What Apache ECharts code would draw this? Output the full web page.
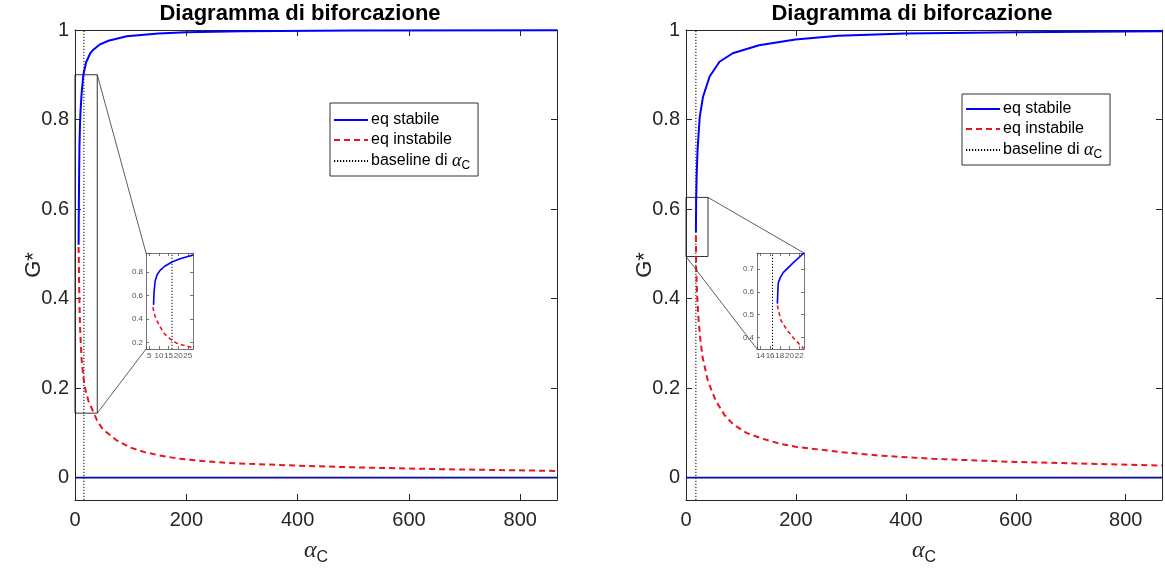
<!DOCTYPE html>
<html><head><meta charset="utf-8">
<script src="https://cdn.jsdelivr.net/npm/echarts@6/dist/echarts.min.js"></script>
<style>html,body{margin:0;padding:0;background:#fff}#c{width:1165px;height:573px}</style>
</head><body><div id="c"></div><script>
// ---------------- data ----------------
const titleText = 'Diagramma di biforcazione';
const nameStable = 'eq stabile';
const nameUnstable = 'eq instabile';
const nameBaseline = 'baseline di α_C';
const xTickStep = 200;
const yTickStep = 0.2;
const mainYRange = [-0.05, 1];

// left panel
const leftXRange = [0, 866];
const leftStable = [[6.5,0.52],[7,0.62],[7.5,0.69],[8,0.74],[9,0.79],[10,0.82],[12,0.86],[15,0.9],[20,0.928],[27,0.947],[33,0.956],[45,0.968],[60,0.976],[93,0.986],[150,0.992],[200,0.995],[300,0.997],[500,0.999],[866,0.9995]];
const leftUnstable = [[6.5,0.515],[7.2,0.45],[8,0.39],[9,0.34],[10,0.31],[12,0.262],[15,0.225],[18,0.2],[24,0.172],[30,0.155],[40,0.127],[50,0.108],[75,0.083],[100,0.067],[125,0.057],[150,0.05],[183,0.043],[230,0.037],[285,0.032],[393,0.027],[500,0.023],[650,0.019],[866,0.015]];
const leftTrivial = [[0,0],[866,0]];
const leftAlphaC = 16;
const leftZoomBox = [0, 0.144, 40, 0.9];
const leftInsetXRange = [3.3, 27.7];
const leftInsetYRange = [0.143, 0.963];
const leftInsetXStep = 5;
const leftInsetYStep = 0.2;
const leftInsetStable = [[7.2,0.52],[7.5,0.63],[8,0.72],[9,0.775],[10.6,0.815],[13,0.85],[16.8,0.886],[20,0.908],[22.3,0.92],[25,0.933],[27.7,0.945]];
const leftInsetUnstable = [[6.9,0.5],[7.5,0.45],[8.5,0.4],[10.6,0.333],[13,0.27],[16.5,0.22],[19,0.195],[22.3,0.177],[25,0.165],[27.7,0.155]];
const leftInsetAlphaC = 16.8;

// right panel
const rightXRange = [0, 866];
const rightStable = [[18,0.548],[18.5,0.62],[19.5,0.68],[21,0.73],[23,0.77],[25,0.806],[31,0.851],[43,0.896],[61,0.929],[85,0.948],[133,0.966],[199,0.979],[277,0.987],[400,0.992],[600,0.995],[866,0.997]];
const rightUnstable = [[18,0.54],[18.5,0.47],[19.5,0.43],[21,0.39],[23,0.35],[26,0.31],[30,0.27],[40,0.215],[55,0.17],[70,0.14],[85,0.12],[110,0.1],[139,0.087],[170,0.076],[199,0.069],[282,0.057],[354,0.049],[450,0.042],[600,0.035],[866,0.027]];
const rightTrivial = [[0,0],[866,0]];
const rightAlphaC = 18;
const rightZoomBox = [0, 0.494, 40, 0.626];
const rightInsetXRange = [13.3, 23];
const rightInsetYRange = [0.349, 0.77];
const rightInsetXStep = 2;
const rightInsetYStep = 0.1;
const rightInsetStable = [[17.5,0.548],[17.6,0.6],[17.7,0.64],[18.1,0.662],[18.7,0.684],[20.8,0.728],[23,0.77]];
const rightInsetUnstable = [[17.5,0.54],[18.2,0.476],[19.5,0.432],[21.2,0.388],[22.9,0.351]];
const rightInsetAlphaC = 16.5;

// ---------------- style ----------------
const FONT = '"Liberation Sans", Arial, Helvetica, sans-serif';
const AX = '#262626';
const BLUE = '#0000ff';
const NAVY = '#0a0a9c';
const RED = '#e8141e';

const grids = [
  {left: 75, top: 30, width: 482, height: 470},
  {left: 686, top: 30, width: 482, height: 470},
  {left: 146, top: 253, width: 47, height: 96, show: true, backgroundColor: '#fff', borderWidth: 0, z: 10},
  {left: 757, top: 253, width: 47, height: 96, show: true, backgroundColor: '#fff', borderWidth: 0, z: 10}
];

function isMult(v, step) { const r = v / step; return Math.abs(r - Math.round(r)) < 1e-6; }
function fmt(v, step) { return isMult(v, step) ? String(+v.toFixed(2)) : ''; }

const xAxes = [], yAxes = [];
function addAxes(gi, xr, yr, xs, ys, small, xIntervalFixed) {
  const fs = small ? 8 : 20;
  const col = small ? '#555' : AX;
  const tl = small ? 3 : 6;
  const common = {gridIndex: gi, type: 'value', axisLine: {show: true, onZero: false, lineStyle: {color: col, width: small ? 0.8 : 1}},
    splitLine: {show: false}, axisTick: {show: true, inside: true, length: tl, lineStyle: {color: col, width: small ? 0.8 : 1}}, z: small ? 12 : 2};
  const xa = Object.assign({}, common, {min: xr[0], max: xr[1]});
  if (xIntervalFixed) xa.interval = xs; else { xa.minInterval = xs; xa.maxInterval = xs; }
  const ya = Object.assign({}, common, {min: yr[0], max: yr[1], minInterval: ys, maxInterval: ys});
  xAxes.push(Object.assign({}, xa, {position: 'bottom', axisLabel: {show: true, fontFamily: FONT, fontSize: fs, color: col, margin: small ? 3 : 10, formatter: v => fmt(v, xs)}}));
  xAxes.push(Object.assign({}, xa, {position: 'top', axisLabel: {show: false}}));
  yAxes.push(Object.assign({}, ya, {position: 'left', axisLabel: {show: true, fontFamily: FONT, fontSize: fs, color: col, margin: small ? 3 : 6, formatter: v => fmt(v, ys)}}));
  yAxes.push(Object.assign({}, ya, {position: 'right', axisLabel: {show: false}}));
}
addAxes(0, leftXRange, mainYRange, xTickStep, yTickStep, false, true);
addAxes(1, rightXRange, mainYRange, xTickStep, yTickStep, false, true);
addAxes(2, leftInsetXRange, leftInsetYRange, leftInsetXStep, leftInsetYStep, true, false);
addAxes(3, rightInsetXRange, rightInsetYRange, rightInsetXStep, rightInsetYStep, true, false);

// axis names for main plots
const alphaRich = {
  a: {fontFamily: '"Liberation Serif", "DejaVu Serif", serif', fontStyle: 'italic', fontSize: 24, color: AX},
  c: {fontFamily: FONT, fontSize: 16, color: AX, padding: [14, 0, 0, 0]}
};
[0, 2].forEach(i => {
  Object.assign(xAxes[i], {name: '{a|α}{c|C}', nameLocation: 'middle', nameGap: 36, nameMoveOverlap: false, nameTextStyle: {rich: alphaRich}});
  Object.assign(yAxes[i], {name: 'G*', nameLocation: 'middle', nameRotate: 90, nameGap: 30, nameMoveOverlap: false, nameTextStyle: {fontFamily: FONT, fontSize: 22, color: AX}});
});

function lineSeries(name, data, gi, color, width, type, z) {
  return {name, type: 'line', data, xAxisIndex: gi * 2, yAxisIndex: gi * 2, showSymbol: false, symbol: 'none',
    smooth: false, lineStyle: {color, width, type}, itemStyle: {color}, z: z || 3, silent: true, clip: true};
}
function baseline(gi, a, yr, width, extra) {
  return Object.assign(lineSeries(nameBaseline, [[a, yr[0]], [a, yr[1]]], gi, '#000', width, [1.2, 1.8], 2), extra || {});
}
function boxArea(b) {
  return {silent: true, itemStyle: {color: 'rgba(0,0,0,0)', borderColor: '#333', borderWidth: 1}, label: {show: false},
    data: [[{coord: [b[0], b[1]]}, {coord: [b[2], b[3]]}]]};
}

const DASH = [6, 4];
const series = [
  lineSeries(nameStable, leftStable, 0, BLUE, 2),
  lineSeries(nameUnstable, leftUnstable, 0, RED, 2, DASH),
  baseline(0, leftAlphaC, mainYRange, 1, {markArea: boxArea(leftZoomBox)}),
  lineSeries(nameStable, leftTrivial, 0, NAVY, 1.6),
  lineSeries(nameStable, rightStable, 1, BLUE, 2),
  lineSeries(nameUnstable, rightUnstable, 1, RED, 2, DASH),
  baseline(1, rightAlphaC, mainYRange, 1, {markArea: boxArea(rightZoomBox)}),
  lineSeries(nameStable, rightTrivial, 1, NAVY, 1.6),
  lineSeries(nameStable, leftInsetStable, 2, BLUE, 1.6, 'solid', 13),
  lineSeries(nameUnstable, leftInsetUnstable, 2, RED, 1.6, [4, 3], 13),
  baseline(2, leftInsetAlphaC, leftInsetYRange, 1, {z: 13}),
  lineSeries(nameStable, rightInsetStable, 3, BLUE, 1.6, 'solid', 13),
  lineSeries(nameUnstable, rightInsetUnstable, 3, RED, 1.6, [4, 3], 13),
  baseline(3, rightInsetAlphaC, rightInsetYRange, 1, {z: 13})
];

function legendFor(left, top, padTop) {
  return {show: true, orient: 'vertical', left, top, selectedMode: false,
    data: [nameStable, nameUnstable, nameBaseline],
    itemWidth: 34, itemHeight: 14, itemGap: 4, padding: [padTop, 8, 4, 3],
    itemStyle: {opacity: 0, borderWidth: 0},
    borderColor: '#333', borderWidth: 1, backgroundColor: '#fff',
    formatter: n => n === nameBaseline ? 'baseline di {a|α}{c|C}' : n,
    textStyle: {fontFamily: FONT, fontSize: 16, color: '#000', padding: [0, 0, 0, -2],
      rich: {a: {fontFamily: '"Liberation Serif", "DejaVu Serif", serif', fontStyle: 'italic', fontSize: 18, color: '#000'},
             c: {fontFamily: FONT, fontSize: 12, color: '#000', padding: [10, 0, 0, 0]}}}};
}

const titleStyle = {fontFamily: FONT, fontSize: 22, fontWeight: 'bold', color: '#000'};
const option = {
  animation: false,
  backgroundColor: '#fff',
  title: [
    {text: titleText, left: 300, top: 3, padding: 0, textAlign: 'center', textStyle: titleStyle},
    {text: titleText, left: 912, top: 3, padding: 0, textAlign: 'center', textStyle: titleStyle}
  ],
  legend: [legendFor(330, 103, 9), legendFor(962, 94, 7)],
  grid: grids,
  xAxis: xAxes,
  yAxis: yAxes,
  series
};

const chart = echarts.init(document.getElementById('c'), null, {renderer: 'canvas'});
chart.setOption(option);

// connector lines between zoom box and inset
function px(ax, pt) { return chart.convertToPixel({xAxisIndex: ax, yAxisIndex: ax}, pt); }
const lb = leftZoomBox, rb = rightZoomBox;
const conns = [
  [px(0, [lb[2], lb[3]]), px(4, [leftInsetXRange[0], leftInsetYRange[1]])],
  [px(0, [lb[2], lb[1]]), px(4, [leftInsetXRange[0], leftInsetYRange[0]])],
  [px(2, [rb[2], rb[3]]), px(6, [rightInsetXRange[1], rightInsetYRange[1]])],
  [px(2, [rb[0], rb[1]]), px(6, [rightInsetXRange[0], rightInsetYRange[0]])]
];
chart.setOption({graphic: conns.map(c => ({type: 'line', silent: true, z: 5,
  shape: {x1: c[0][0], y1: c[0][1], x2: c[1][0], y2: c[1][1]}, style: {stroke: '#333', lineWidth: 0.8}}))});
</script></body></html>
